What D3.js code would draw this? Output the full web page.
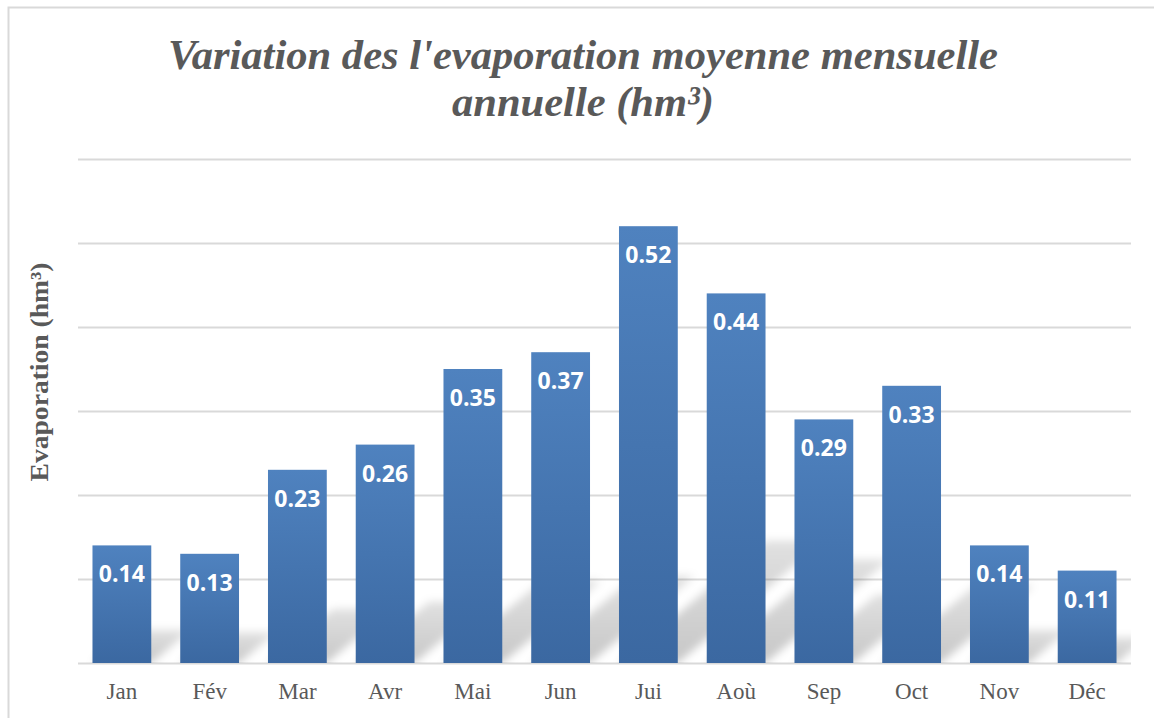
<!DOCTYPE html>
<html>
<head>
<meta charset="utf-8">
<script src="https://cdn.jsdelivr.net/npm/d3@7"></script>
<style>
  body { margin: 0; background: #fff; }
</style>
</head>
<body>
<svg id="chart" width="1154" height="718"></svg>
<script>
// data
var months = ["Jan", "Fév", "Mar", "Avr", "Mai", "Jun", "Jui", "Aoù", "Sep", "Oct", "Nov", "Déc"];
var evaporation = [0.14, 0.13, 0.23, 0.26, 0.35, 0.37, 0.52, 0.44, 0.29, 0.33, 0.14, 0.11];
var gridTicks = [0, 0.1, 0.2, 0.3, 0.4, 0.5, 0.6];
var titleLines = ["Variation des l'evaporation moyenne mensuelle", "annuelle (hm³)"];
var yTitle = "Evaporation (hm³)";

var svg = d3.select("#chart");

var margin = {top: 159, right: 23, bottom: 55, left: 78},
    width = 1154 - margin.left - margin.right,
    height = 718 - margin.top - margin.bottom;

// outer border (only top/left visible in the picture)
svg.append("rect")
    .attr("x", 8.5).attr("y", 7.5)
    .attr("width", 1160).attr("height", 730)
    .attr("fill", "none")
    .attr("stroke", "#d9d9d9")
    .attr("stroke-width", 2);

var defs = svg.append("defs");

var grad = defs.append("linearGradient")
    .attr("id", "barGrad")
    .attr("x1", 0).attr("y1", 0).attr("x2", 0).attr("y2", 1);
grad.append("stop").attr("offset", "0%").attr("stop-color", "#4f82bf");
grad.append("stop").attr("offset", "100%").attr("stop-color", "#3b68a1");

var shGrad = defs.append("linearGradient")
    .attr("id", "shadowGrad")
    .attr("x1", 0).attr("y1", 1).attr("x2", 0).attr("y2", 0);
shGrad.append("stop").attr("offset", "0%").attr("stop-color", "#000").attr("stop-opacity", 0.22);
shGrad.append("stop").attr("offset", "100%").attr("stop-color", "#000").attr("stop-opacity", 0.12);

defs.append("filter")
    .attr("id", "blur")
    .attr("x", "-50%").attr("y", "-50%").attr("width", "200%").attr("height", "200%")
  .append("feGaussianBlur")
    .attr("stdDeviation", 4);

defs.append("clipPath")
    .attr("id", "plotClip")
  .append("rect")
    .attr("x", 0).attr("y", 0)
    .attr("width", width).attr("height", height);

var g = svg.append("g")
    .attr("transform", "translate(" + margin.left + "," + margin.top + ")");

var x = d3.scaleBand()
    .domain(months)
    .range([0, width])
    .paddingInner(0.33)
    .paddingOuter(0.165);

var y = d3.scaleLinear()
    .domain([0, 0.6])
    .range([height, 0]);

// gridlines
g.append("g")
    .attr("class", "grid")
    .call(d3.axisLeft(y).tickValues(gridTicks).tickSize(-width).tickFormat(""))
    .call(function(s) {
      s.select(".domain").remove();
      s.selectAll(".tick line").attr("stroke", "#d9d9d9").attr("stroke-width", 2);
    });

// perspective shadows behind the bars
g.append("g")
    .attr("clip-path", "url(#plotClip)")
  .selectAll(".shadow")
    .data(evaporation)
    .enter().append("path")
    .attr("class", "shadow")
    .attr("fill", "url(#shadowGrad)")
    .attr("filter", "url(#blur)")
    .attr("d", function(d, i) {
      var x0 = x(months[i]), x1 = x0 + x.bandwidth();
      var h = height - y(d);
      var dy = h * 0.28, dx = dy * 1.2;
      return "M" + x0 + "," + height +
             "L" + x1 + "," + height +
             "L" + (x1 + dx) + "," + (height - dy) +
             "L" + (x0 + dx) + "," + (height - dy) + "Z";
    });

// bars
g.selectAll(".bar")
    .data(evaporation)
    .enter().append("rect")
    .attr("class", "bar")
    .attr("x", function(d, i) { return x(months[i]); })
    .attr("y", function(d) { return y(d); })
    .attr("width", x.bandwidth())
    .attr("height", function(d) { return height - y(d); })
    .attr("fill", "url(#barGrad)");

// value labels
g.selectAll(".label")
    .data(evaporation)
    .enter().append("text")
    .attr("class", "label")
    .attr("x", function(d, i) { return x(months[i]) + x.bandwidth() / 2; })
    .attr("y", function(d) { return y(d) + 37; })
    .attr("text-anchor", "middle")
    .attr("font-family", "'Open Sans', 'Liberation Sans', sans-serif")
    .attr("font-weight", 700)
    .attr("font-size", 23)
    .attr("fill", "#fff")
    .text(function(d) { return d.toFixed(2); });

// x axis labels
g.append("g")
    .attr("transform", "translate(0," + height + ")")
    .call(d3.axisBottom(x).tickSize(0).tickPadding(0))
    .call(function(s) {
      s.select(".domain").remove();
      s.selectAll(".tick text")
        .attr("y", 36)
        .attr("dy", 0)
        .attr("font-family", "'Liberation Serif', 'Times New Roman', serif")
        .attr("font-size", 23)
        .attr("fill", "#595959");
    });

// title
svg.append("g").selectAll("text")
    .data(titleLines)
    .enter().append("text")
    .attr("x", 583)
    .attr("y", function(d, i) { return 69 + i * 47; })
    .attr("text-anchor", "middle")
    .attr("textLength", function(d, i) { return i == 0 ? 830 : 262; })
    .attr("lengthAdjust", "spacingAndGlyphs")
    .attr("font-family", "'Liberation Serif', 'Times New Roman', serif")
    .attr("font-style", "italic")
    .attr("font-weight", 700)
    .attr("font-size", 43)
    .attr("fill", "#595959")
    .text(function(d) { return d; });

// y axis title
svg.append("text")
    .attr("transform", "translate(48,372) rotate(-90)")
    .attr("text-anchor", "middle")
    .attr("textLength", 219)
    .attr("lengthAdjust", "spacingAndGlyphs")
    .attr("font-family", "'Liberation Serif', 'Times New Roman', serif")
    .attr("font-weight", 700)
    .attr("font-size", 25)
    .attr("fill", "#595959")
    .text(yTitle);
</script>
</body>
</html>
